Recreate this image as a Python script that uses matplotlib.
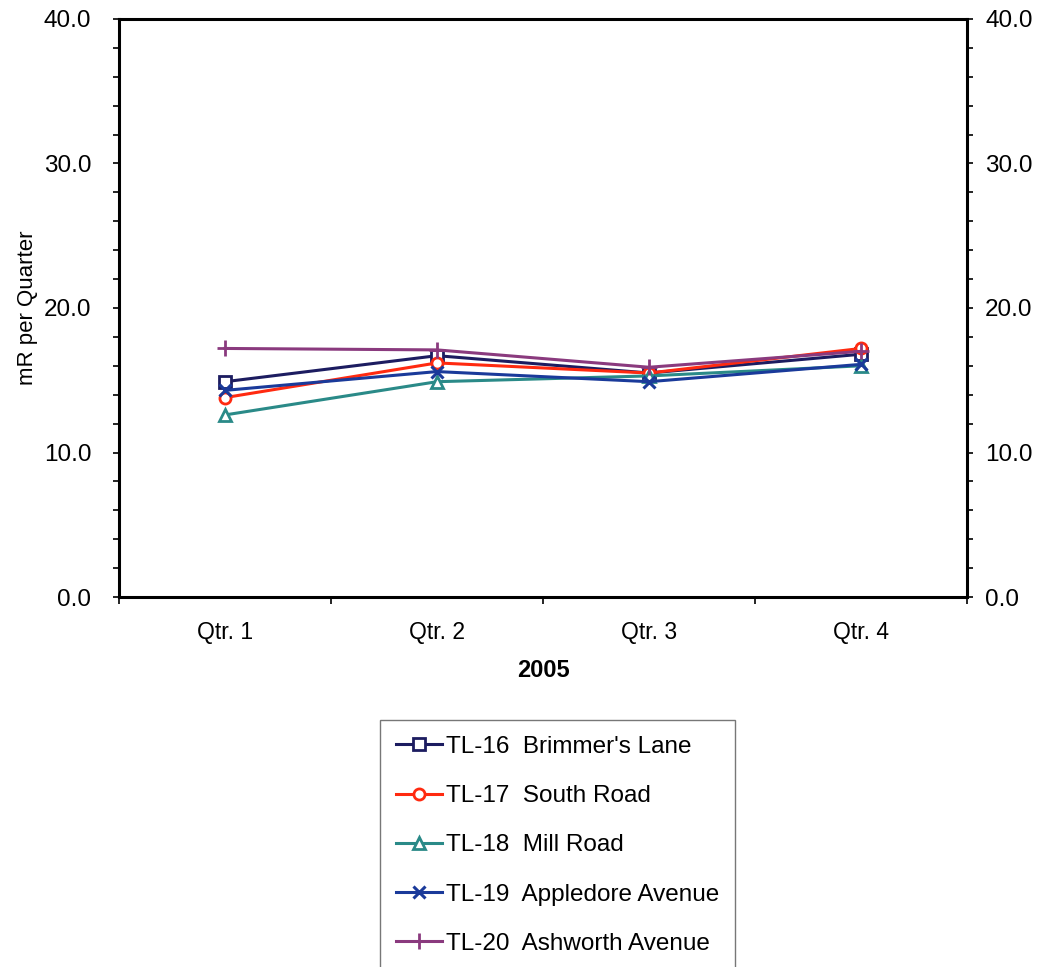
import matplotlib.pyplot as plt
from matplotlib.ticker import MultipleLocator, FixedLocator

plt.rcParams['font.family'] = ['Liberation Sans', 'DejaVu Sans']

# ======================
# Data
# ======================
quarters = ['Qtr. 1', 'Qtr. 2', 'Qtr. 3', 'Qtr. 4']
year_label = '2005'

tl16 = [14.9, 16.7, 15.5, 16.8]
tl17 = [13.8, 16.2, 15.5, 17.2]
tl18 = [12.6, 14.9, 15.3, 16.0]
tl19 = [14.3, 15.6, 14.9, 16.1]
tl20 = [17.2, 17.1, 15.9, 17.0]

series_names = [
    'TL-16  Brimmer\'s Lane',
    'TL-17  South Road',
    'TL-18  Mill Road',
    'TL-19  Appledore Avenue',
    'TL-20  Ashworth Avenue',
]

# ======================
# Plot
# ======================
fig = plt.figure(figsize=(10.37, 9.67), dpi=100)
ax = fig.add_axes([0.1148, 0.3826, 0.8177, 0.5978])

x = list(range(len(quarters)))

styles = [
    dict(color='#1c1c60', marker='s', mfc='white', mec='#1c1c60', ms=8, mew=2),
    dict(color='#ff2a10', marker='o', mfc='white', mec='#ff2a10', ms=8, mew=2),
    dict(color='#2a8a88', marker='^', mfc='white', mec='#2a8a88', ms=8, mew=2),
    dict(color='#1a3a9a', marker='x', ms=9, mew=2.2),
    dict(color='#8a3a7e', marker='+', ms=12, mew=2),
]
data = [tl16, tl17, tl18, tl19, tl20]

lines = []
for vals, name, st in zip(data, series_names, styles):
    ln, = ax.plot(x, vals, lw=2.2, label=name, **st)
    lines.append(ln)

ax.set_xlim(-0.5, 3.5)
ax.set_ylim(0, 40)
ax.set_xticks(x)
ax.set_xticklabels(quarters, fontsize=16.5)
ax.xaxis.set_minor_locator(FixedLocator([-0.5, 0.5, 1.5, 2.5, 3.5]))
ax.tick_params(axis='x', which='major', length=0, pad=17)
ax.tick_params(axis='x', which='minor', length=5, width=1.2, direction='out')

ax.yaxis.set_major_locator(MultipleLocator(10))
ax.yaxis.set_minor_locator(MultipleLocator(2))
ax.yaxis.set_major_formatter(plt.FuncFormatter(lambda v, p: f'{v:.1f}'))
ax.tick_params(axis='y', which='both', length=4, width=1.2, direction='out', labelsize=17.5, pad=16)

for sp in ax.spines.values():
    sp.set_linewidth(2.2)
    sp.set_color('black')

ax2 = ax.twinx()
ax2.set_ylim(0, 40)
ax2.yaxis.set_major_locator(MultipleLocator(10))
ax2.yaxis.set_minor_locator(MultipleLocator(2))
ax2.yaxis.set_major_formatter(plt.FuncFormatter(lambda v, p: f'{v:.1f}'))
ax2.tick_params(axis='y', which='both', length=4, width=1.2, direction='out', labelsize=17.5, pad=9)
for sp in ax2.spines.values():
    sp.set_visible(False)

ax.set_ylabel('mR per Quarter', fontsize=16, labelpad=4)
ax.set_xlabel(year_label, fontsize=17, fontweight='bold', labelpad=11)

leg = fig.legend(handles=lines, loc='upper left',
                 bbox_to_anchor=(380 / 1037, 1 - 720 / 967),
                 fontsize=17.5, frameon=True, fancybox=False,
                 edgecolor='#555555', handlelength=1.9, handletextpad=0.15,
                 labelspacing=1.12, borderpad=0.65, borderaxespad=0)
leg.get_frame().set_linewidth(1)

fig.savefig('out.png', dpi=100)
